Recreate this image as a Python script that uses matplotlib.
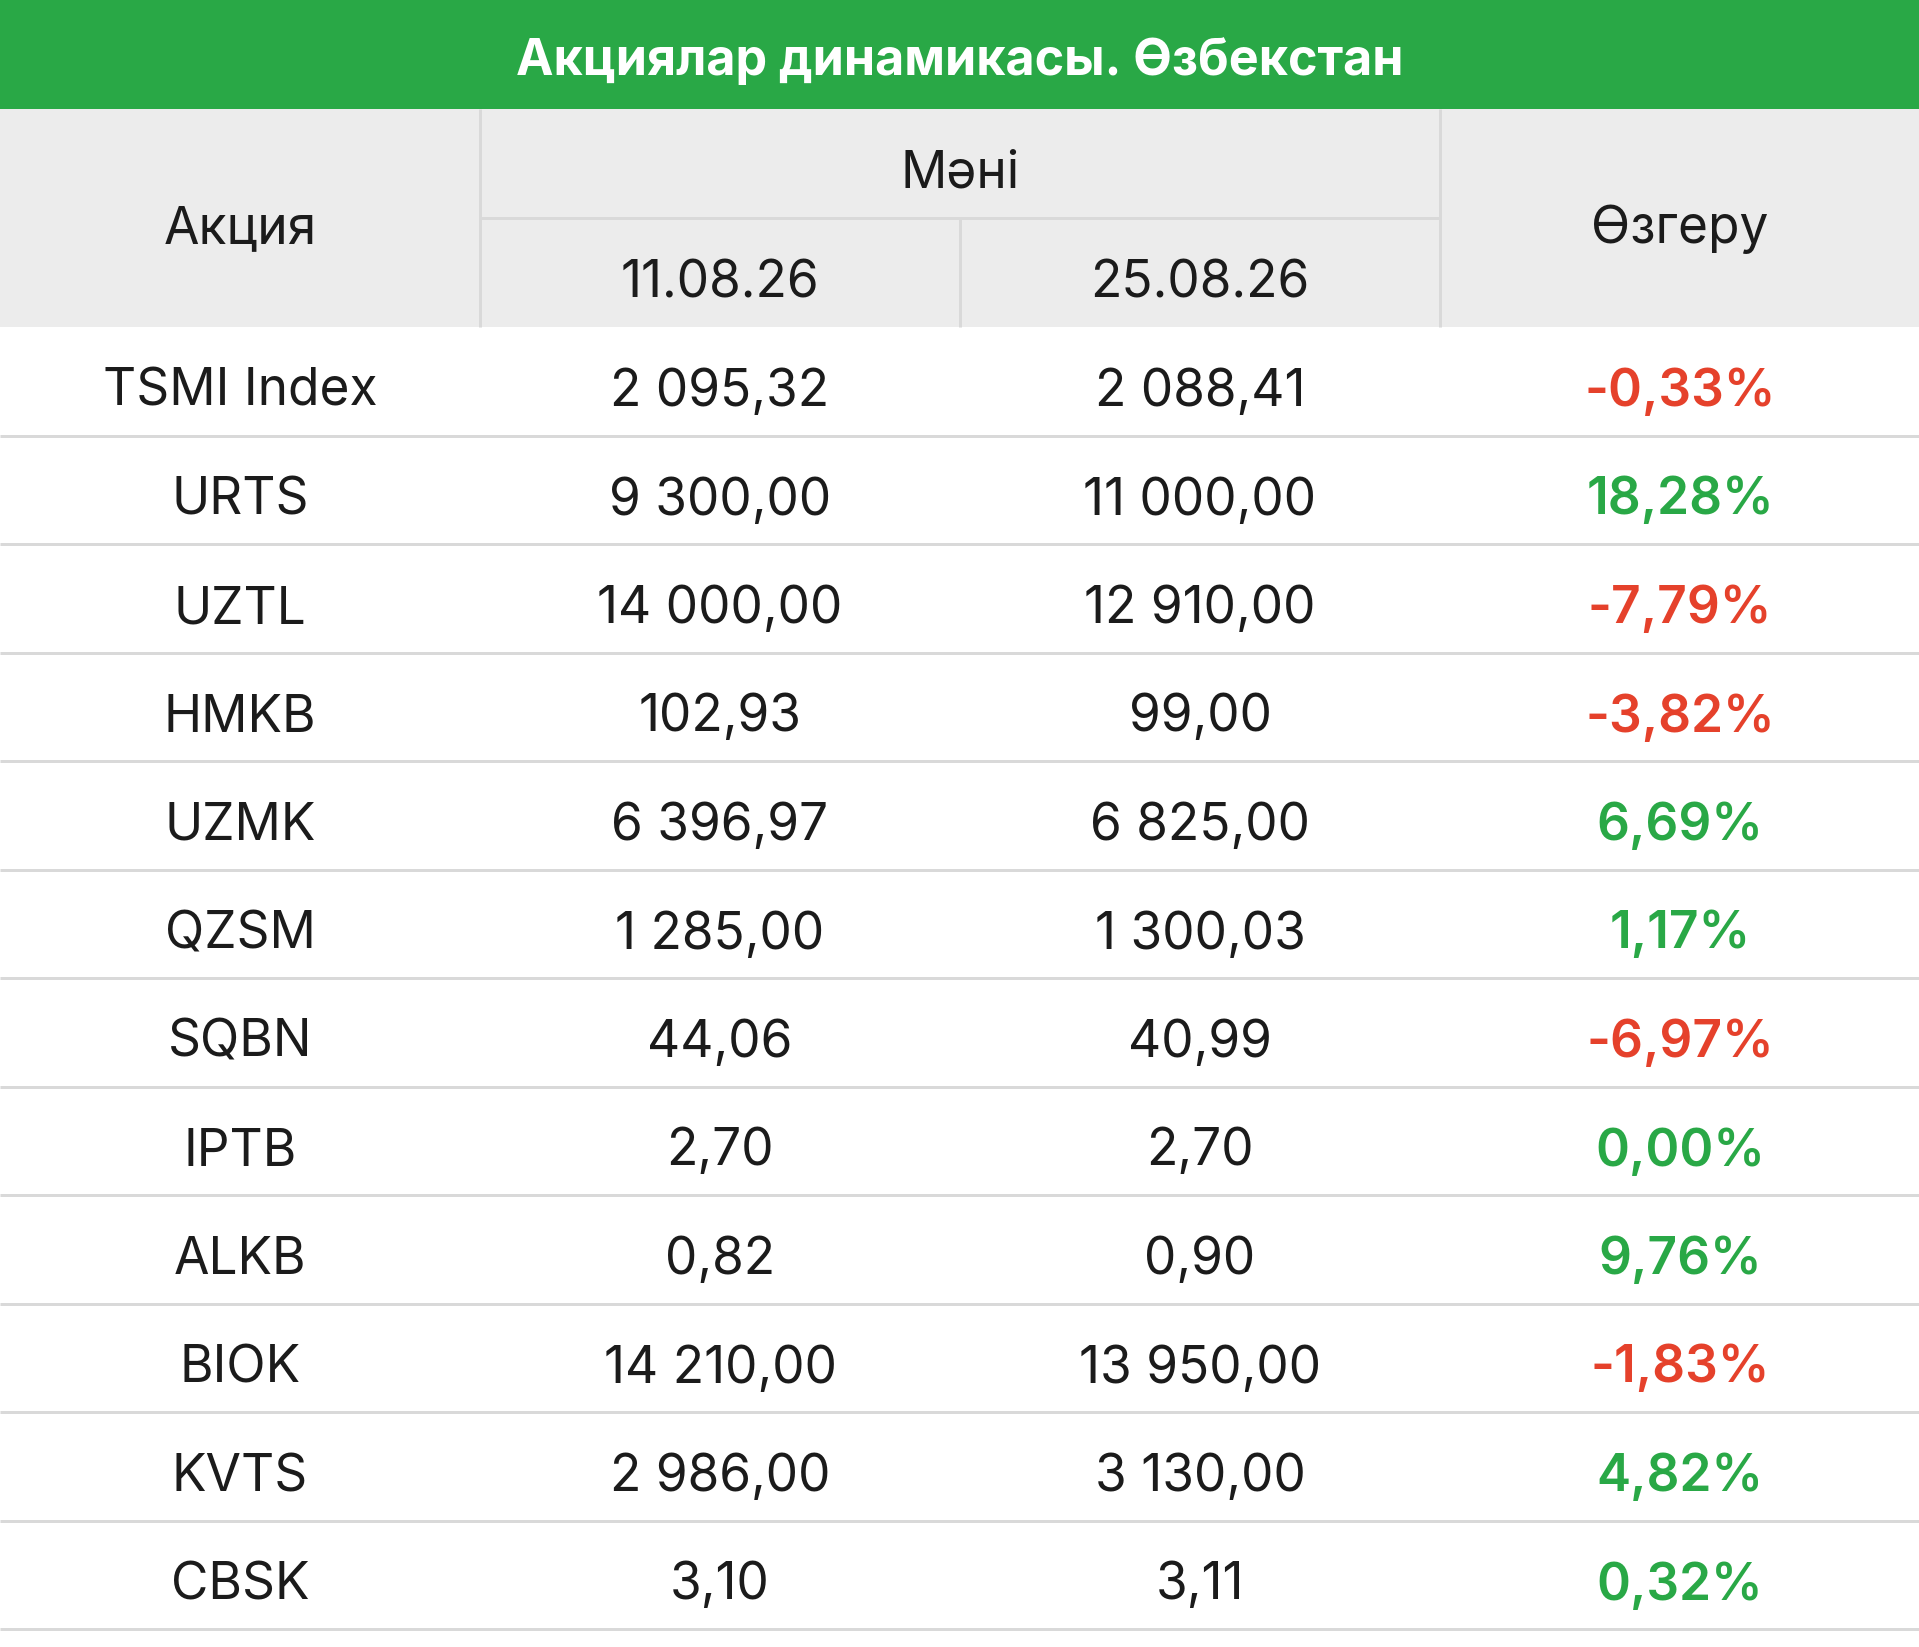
import matplotlib
matplotlib.use("Agg")
import matplotlib.pyplot as plt
from matplotlib.patches import Rectangle

plt.rcParams['font.family'] = ['Inter', 'DejaVu Sans']

title = "Акциялар динамикасы. Өзбекстан"
col_headers = ["Акция", "Мәні", "Өзгеру"]
dates = ["11.08.26", "25.08.26"]
tickers = ["TSMI Index", "URTS", "UZTL", "HMKB", "UZMK", "QZSM",
           "SQBN", "IPTB", "ALKB", "BIOK", "KVTS", "CBSK"]
val_start = [2095.32, 9300.00, 14000.00, 102.93, 6396.97, 1285.00,
             44.06, 2.70, 0.82, 14210.00, 2986.00, 3.10]
val_end = [2088.41, 11000.00, 12910.00, 99.00, 6825.00, 1300.03,
           40.99, 2.70, 0.90, 13950.00, 3130.00, 3.11]
change_pct = [-0.33, 18.28, -7.79, -3.82, 6.69, 1.17,
              -6.97, 0.00, 9.76, -1.83, 4.82, 0.32]

GREEN = "#29a846"
RED = "#e5412b"
HEAD_BG = "#ececec"
LINE = "#d9d9d9"
TEXT = "#1b1b1b"


def fmt_num(v):
    s = f"{v:,.2f}"
    return s.replace(",", " ").replace(".", ",")


def fmt_pct(v):
    return f"{v:.2f}".replace(".", ",") + "%"


W, H = 1919, 1647
fig = plt.figure(figsize=(W / 100, H / 100), dpi=100)
ax = fig.add_axes([0, 0, 1, 1])
ax.set_xlim(0, W)
ax.set_ylim(H, 0)
ax.axis("off")

FS = 37  # points
lw = 3 * 72 / 100

# title bar
ax.add_patch(Rectangle((0, 0), W, 109, color=GREEN, lw=0))
ax.text(W / 2, 75, title, ha="center", va="baseline", color="white",
        fontsize=36.2, fontweight="bold")

# header
ax.add_patch(Rectangle((0, 109), W, 218, color=HEAD_BG, lw=0))
col_w = 480
centers = [col_w * i + col_w / 2 for i in range(4)]
ax.plot([480, 480], [109, 327], color=LINE, lw=lw, solid_capstyle="butt")
ax.plot([1440, 1440], [109, 327], color=LINE, lw=lw, solid_capstyle="butt")
ax.plot([960, 960], [218, 327], color=LINE, lw=lw, solid_capstyle="butt")
ax.plot([480, 1440], [218, 218], color=LINE, lw=lw, solid_capstyle="butt")

ax.text(centers[0], 243, col_headers[0], ha="center", va="baseline", color=TEXT, fontsize=FS)
ax.text(960, 187, col_headers[1], ha="center", va="baseline", color=TEXT, fontsize=FS)
ax.text(centers[3], 243, col_headers[2], ha="center", va="baseline", color=TEXT, fontsize=FS)
ax.text(centers[1], 297, dates[0], ha="center", va="baseline", color=TEXT, fontsize=FS)
ax.text(centers[2], 297, dates[1], ha="center", va="baseline", color=TEXT, fontsize=FS)

# body
top = 327
row_h = (1629 - 327) / len(tickers)
for i, (t, a, b, c) in enumerate(zip(tickers, val_start, val_end, change_pct)):
    y0 = top + i * row_h
    base = y0 + 79
    ax.text(centers[0], base, t, ha="center", va="baseline", color=TEXT, fontsize=FS)
    ax.text(centers[1], base, fmt_num(a), ha="center", va="baseline", color=TEXT, fontsize=FS)
    ax.text(centers[2], base, fmt_num(b), ha="center", va="baseline", color=TEXT, fontsize=FS)
    ax.text(centers[3], base, fmt_pct(c), ha="center", va="baseline",
            color=RED if c < 0 else GREEN, fontsize=FS, fontweight="semibold")
    ax.plot([0, W], [y0 + row_h, y0 + row_h], color=LINE, lw=lw, solid_capstyle="butt")

fig.savefig("out.png", dpi=100, facecolor="white")
